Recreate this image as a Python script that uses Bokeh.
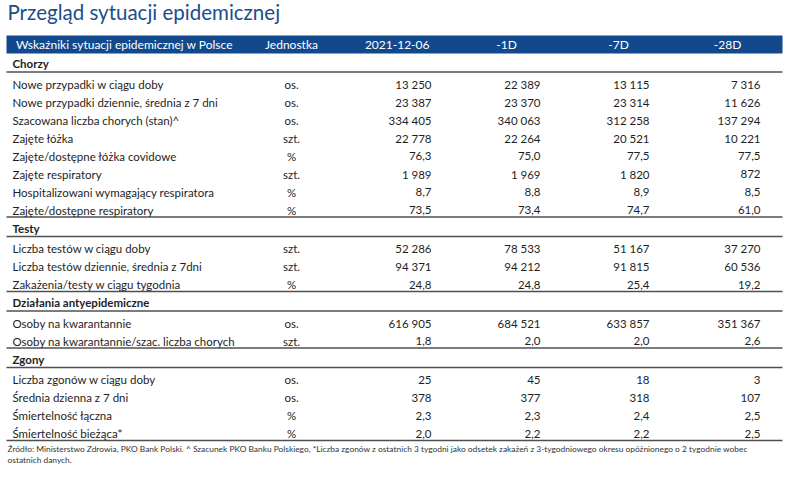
from bokeh.plotting import figure
from bokeh.models import Range1d, ColumnDataSource
from bokeh.core.properties import value
from bokeh.embed import file_html
from bokeh.resources import INLINE

title_text = "Przegląd sytuacji epidemicznej"
header_labels = ["Wskaźniki sytuacji epidemicznej w Polsce", "Jednostka", "2021-12-06", "-1D", "-7D", "-28D"]

sections = ["Chorzy", "Testy", "Działania antyepidemiczne", "Zgony"]
section_sizes = [8, 3, 2, 4]

row_labels = [
    "Nowe przypadki w ciągu doby",
    "Nowe przypadki dziennie, średnia z 7 dni",
    "Szacowana liczba chorych (stan)^",
    "Zajęte łóżka",
    "Zajęte/dostępne łóżka covidowe",
    "Zajęte respiratory",
    "Hospitalizowani wymagający respiratora",
    "Zajęte/dostępne respiratory",
    "Liczba testów w ciągu doby",
    "Liczba testów dziennie, średnia z 7dni",
    "Zakażenia/testy w ciągu tygodnia",
    "Osoby na kwarantannie",
    "Osoby na kwarantannie/szac. liczba chorych",
    "Liczba zgonów w ciągu doby",
    "Średnia dzienna z 7 dni",
    "Śmiertelność łączna",
    "Śmiertelność bieżąca*",
]
row_units = ["os.", "os.", "os.", "szt.", "%", "szt.", "%", "%",
             "szt.", "szt.", "%",
             "os.", "szt.",
             "os.", "os.", "%", "%"]
decimals = [0, 0, 0, 0, 1, 0, 1, 1, 0, 0, 1, 0, 1, 0, 0, 1, 1]

v_2021_12_06 = [13250, 23387, 334405, 22778, 76.3, 1989, 8.7, 73.5, 52286, 94371, 24.8, 616905, 1.8, 25, 378, 2.3, 2.0]
v_1d = [22389, 23370, 340063, 22264, 75.0, 1969, 8.8, 73.4, 78533, 94212, 24.8, 684521, 2.0, 45, 377, 2.3, 2.2]
v_7d = [13115, 23314, 312258, 20521, 77.5, 1820, 8.9, 74.7, 51167, 91815, 25.4, 633857, 2.0, 18, 318, 2.4, 2.2]
v_28d = [7316, 11626, 137294, 10221, 77.5, 872, 8.5, 61.0, 37270, 60536, 19.2, 351367, 2.6, 3, 107, 2.5, 2.5]

footnote_1 = ("Źródło: Ministerstwo Zdrowia, PKO Bank Polski. ^ Szacunek PKO Banku Polskiego, *Liczba zgonów z ostatnich 3 tygodni "
              "jako odsetek zakażeń z 3-tygodniowego okresu opóźnionego o 2 tygodnie wobec")
footnote_2 = "ostatnich danych."


def fmt(v, d):
    if d == 0:
        return f"{int(round(v)):,}".replace(",", " ")
    return f"{v:.{d}f}".replace(".", ",")


BLUE = "#12498c"
TITLE_BLUE = "#1b4d8c"
TXT = "#1e1e1e"
LINE = "#505050"
LX0, LX1 = 14, 790

p = figure(width=784, height=480, x_range=Range1d(8, 792), y_range=Range1d(488, 8),
           output_backend="svg", toolbar_location=None, min_border=0,
           outline_line_color=None, background_fill_color="white", border_fill_color="white")
p.axis.visible = False
p.grid.visible = False

# Title
p.text(x=[15], y=[19], text=[title_text], text_font=value("Lato"), text_font_size="20.5px",
       text_color=TITLE_BLUE, text_baseline="middle", text_align="left")

# Header bar
p.quad(left=[LX0], right=[LX1], top=[43], bottom=[61], fill_color=BLUE, line_color=None)
hx = [132, 299, 437, 514, 626, 735]
ha = ["center", "center", "right", "center", "center", "center"]
p.text(x=hx, y=[52] * 6, text=header_labels, text_font=value("Lato"), text_font_size="12px",
       text_color="white", text_baseline="middle", text_align=ha)

# Layout of rows
col_right = [439, 548, 657, 768]
unit_x = 299
label_x = 20

sec_y, sec_txt = [], []
line_y = []
row_y = []
y = 71
for si, name in enumerate(sections):
    sec_y.append(y)
    sec_txt.append(name)
    line_y.append(y + 8.5)
    ry = y + 20.5
    for k in range(section_sizes[si]):
        row_y.append(ry + 18 * k)
    last = ry + 18 * (section_sizes[si] - 1)
    line_y.append(last + 7)
    y = last + 7 + 11

p.text(x=[label_x] * len(sec_y), y=sec_y, text=sec_txt, text_font=value("Lato"), text_font_size="11.5px",
       text_font_style="bold", text_color=TXT, text_baseline="middle", text_align="left")

p.segment(x0=[LX0] * len(line_y), x1=[LX1] * len(line_y), y0=line_y, y1=line_y,
          line_color=LINE, line_width=1.6)

src = ColumnDataSource(dict(
    y=row_y, label=row_labels, unit=row_units,
    c0=[fmt(v, d) for v, d in zip(v_2021_12_06, decimals)],
    c1=[fmt(v, d) for v, d in zip(v_1d, decimals)],
    c2=[fmt(v, d) for v, d in zip(v_7d, decimals)],
    c3=[fmt(v, d) for v, d in zip(v_28d, decimals)],
))
p.text(x=label_x, y="y", text="label", source=src, text_font=value("Lato"), text_font_size="11.5px",
       text_color=TXT, text_baseline="middle", text_align="left")
p.text(x=unit_x, y="y", text="unit", source=src, text_font=value("Lato"), text_font_size="11.5px",
       text_color=TXT, text_baseline="middle", text_align="center")
for ci, cx in enumerate(col_right):
    p.text(x=cx, y="y", text=f"c{ci}", source=src, text_font=value("Lato"), text_font_size="11.5px",
           text_color=TXT, text_baseline="middle", text_align="right")

# Footnote
p.text(x=[15, 15], y=[456, 467], text=[footnote_1, footnote_2], text_font=value("Lato"), text_font_size="8.4px",
       text_color="#333333", text_baseline="middle", text_align="left")

open("out.html", "w").write(file_html(p, INLINE))
